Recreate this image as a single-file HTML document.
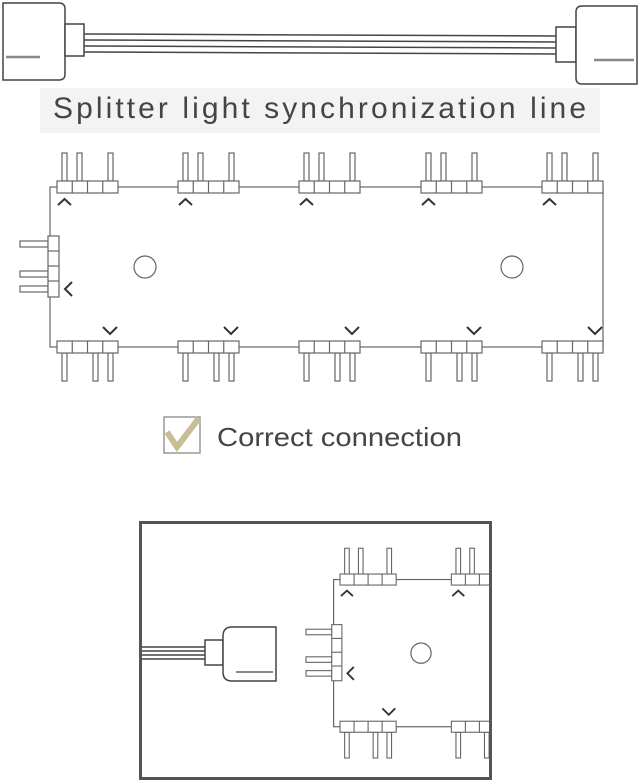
<!DOCTYPE html>
<html><head><meta charset="utf-8"><style>
html,body{margin:0;padding:0;background:#fff;width:640px;height:783px;overflow:hidden}
svg{display:block}
</style></head><body>
<svg width="640" height="783" viewBox="0 0 640 783" xmlns="http://www.w3.org/2000/svg">
<defs>
  <g id="tg" fill="#fff" stroke="#666" stroke-width="1.2">
    <rect x="5" y="-28" width="5" height="28"/>
    <rect x="20" y="-28" width="5" height="28"/>
    <rect x="51" y="-28" width="5" height="28"/>
    <rect x="0" y="0" width="61" height="12"/>
    <line x1="15.25" y1="0" x2="15.25" y2="12"/>
    <line x1="30.5" y1="0" x2="30.5" y2="12"/>
    <line x1="45.75" y1="0" x2="45.75" y2="12"/>
    <polyline points="1,24 7.5,18 14,24" fill="none" stroke="#333" stroke-width="2"/>
  </g>
  <g id="bg" fill="#fff" stroke="#666" stroke-width="1.2">
    <rect x="5" y="12" width="5" height="28"/>
    <rect x="36" y="12" width="5" height="28"/>
    <rect x="51" y="12" width="5" height="28"/>
    <rect x="0" y="0" width="61" height="12"/>
    <line x1="15.25" y1="0" x2="15.25" y2="12"/>
    <line x1="30.5" y1="0" x2="30.5" y2="12"/>
    <line x1="45.75" y1="0" x2="45.75" y2="12"/>
    <polyline points="46,-14 53,-7 60,-14" fill="none" stroke="#333" stroke-width="2"/>
  </g>
  <g id="lc" fill="#fff" stroke="#666" stroke-width="1.2">
    <rect x="20" y="241" width="28" height="6"/>
    <rect x="20" y="271" width="28" height="6"/>
    <rect x="20" y="286" width="28" height="6"/>
    <rect x="48" y="236" width="11" height="61"/>
    <line x1="48" y1="251" x2="59" y2="251"/>
    <line x1="48" y1="266" x2="59" y2="266"/>
    <line x1="48" y1="281" x2="59" y2="281"/>
    <polyline points="72,282 65,289 72,296" fill="none" stroke="#333" stroke-width="2"/>
  </g>
  <clipPath id="cp"><rect x="142" y="524" width="347" height="253"/></clipPath>
</defs>

<!-- top cable -->
<g fill="#fff" stroke="#444" stroke-width="1.5">
  <line x1="84" y1="34" x2="556" y2="36"/>
  <line x1="84" y1="40" x2="556" y2="42"/>
  <line x1="84" y1="46" x2="556" y2="48"/>
  <line x1="84" y1="52" x2="556" y2="54"/>
  <path d="M3,3 H59 Q65,3 65,9 V74 Q65,80 59,80 H3 Z"/>
  <rect x="65" y="24" width="19" height="32"/>
  <rect x="556" y="27" width="20" height="35"/>
  <path d="M637,6 H582 Q576,6 576,12 V78 Q576,84 582,84 H637 Z"/>
</g>
<line x1="6" y1="57" x2="40" y2="57" stroke="#888" stroke-width="2.5"/>
<line x1="594" y1="60" x2="634" y2="60" stroke="#888" stroke-width="2.5"/>

<rect x="40" y="88" width="560" height="45" fill="#f3f3f3"/>
<text x="53" y="118" font-family="Liberation Sans, sans-serif" font-size="30" fill="#444" textLength="533" lengthAdjust="spacing">Splitter light synchronization line</text>

<!-- main splitter -->
<rect x="50" y="187" width="553" height="160" fill="none" stroke="#666" stroke-width="1.2"/>
<circle cx="145" cy="267" r="11" fill="none" stroke="#666" stroke-width="1.2"/>
<circle cx="512" cy="267" r="11" fill="none" stroke="#666" stroke-width="1.2"/>
<use href="#tg" x="57" y="181"/>
<use href="#tg" x="178" y="181"/>
<use href="#tg" x="299" y="181"/>
<use href="#tg" x="421" y="181"/>
<use href="#tg" x="542" y="181"/>
<use href="#bg" x="57" y="341"/>
<use href="#bg" x="178" y="341"/>
<use href="#bg" x="299" y="341"/>
<use href="#bg" x="421" y="341"/>
<use href="#bg" x="542" y="341"/>
<use href="#lc"/>

<!-- checkbox -->
<rect x="164" y="417" width="36" height="36" fill="#fff" stroke="#999" stroke-width="1.5"/>
<polyline points="167,432 177,447 199,418" fill="none" stroke="#c9bd95" stroke-width="6"/>
<text x="217" y="446" font-family="Liberation Sans, sans-serif" font-size="26" fill="#444" textLength="245" lengthAdjust="spacingAndGlyphs">Correct connection</text>

<!-- bottom box -->
<rect x="140.5" y="522.5" width="350" height="256" fill="#fff" stroke="#555" stroke-width="3"/>
<g clip-path="url(#cp)">
  <g transform="translate(287.6,407.5) scale(0.92)">
    <rect x="50" y="187" width="620" height="160" fill="none" stroke="#666" stroke-width="1.3"/>
    <circle cx="145" cy="267" r="11" fill="none" stroke="#666" stroke-width="1.3"/>
    <use href="#tg" x="57" y="181"/>
    <use href="#tg" x="178" y="181"/>
    <use href="#bg" x="57" y="341"/>
    <use href="#bg" x="178" y="341"/>
    <use href="#lc"/>
  </g>
  <g fill="#fff" stroke="#444" stroke-width="1.5">
    <line x1="140" y1="647" x2="205" y2="647"/>
    <line x1="140" y1="651" x2="205" y2="651"/>
    <line x1="140" y1="655" x2="205" y2="655"/>
    <line x1="140" y1="659" x2="205" y2="659"/>
    <rect x="205" y="640" width="18" height="25"/>
    <path d="M276,627 H232 Q223,627 223,636 V672 Q223,681 232,681 H276 Z"/>
  </g>
  <line x1="236" y1="672" x2="273" y2="672" stroke="#888" stroke-width="2"/>
</g>
</svg>
</body></html>
